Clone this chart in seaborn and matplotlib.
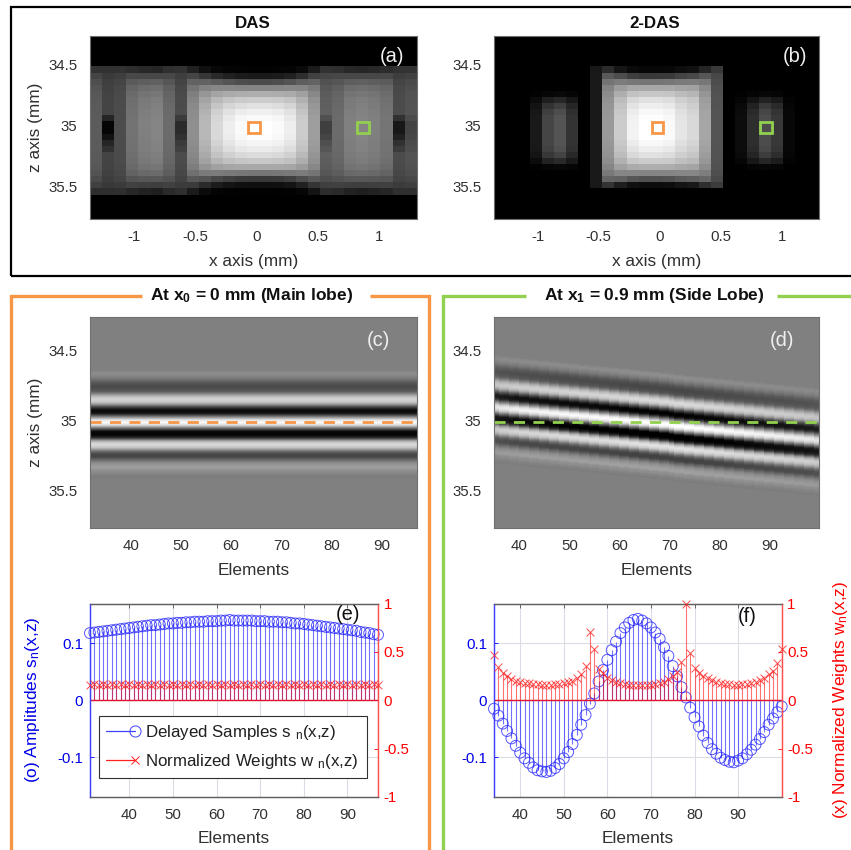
import numpy as np
import seaborn as sns
import matplotlib
matplotlib.use('Agg')
import matplotlib.pyplot as plt
from matplotlib.lines import Line2D
from matplotlib.patches import Rectangle
from matplotlib.legend_handler import HandlerLine2DCompound

W, H = 851, 850
ORANGE = '#F79646'
GREEN = '#92D050'
TXT = '#303030'

# panel (a): brightness per column, envelope per row, dips around z=35
das_cols = [.36, .27, .30, .45, .50, .52, .42, .30, .56, .72, .85, .93, .98, 1.0, 1.0, .98, .93, .80,
            .62, .38, .42, .50, .52, .50, .46, .30, .33]
das_env = [0, 0, 0, 0, 0, .01, .10, .30, .52, .68, .80, .88, .94, .98, 1.0, 1.0, .99, .96, .92, .86,
           .78, .66, .46, .22, .06, .005, 0, 0, 0, 0]
das_dip_col = [1, .08, 1, 1, 1, 1, 1, .55, 1, 1, 1, 1, 1, 1, 1, 1, 1, 1, 1, .65, 1, 1, 1, 1, 1, .3, .8]
das_dip_row = [0, 0, 0, 0, 0, 0, 0, 0, 0, 0, 0, 0, 0, .5, 1.0, 1.0, .8, .5, .3, 0,
               0, 0, 0, 0, 0, 0, 0, 0, 0, 0]

# panel (b)
das2_cols = [0, 0, 0, .10, .27, .33, .20, 0, .10, .60, .80, .95, 1.0, 1.0, .98, .90, .85, .65,
             .33, 0, .05, .18, .30, .22, .03, 0, 0]
das2_is_side = [1, 1, 1, 1, 1, 1, 1, 1, 0, 0, 0, 0, 0, 0, 0, 0, 0, 0, 0, 1, 1, 1, 1, 1, 1, 1, 1]
das2_main_env = [0, 0, 0, 0, 0, .03, .22, .46, .66, .78, .88, .93, .97, .99, 1.0, 1.0, 1.0, .97, .93, .88,
                 .80, .68, .52, .32, .05, 0, 0, 0, 0, 0]
das2_side_env = [0, 0, 0, 0, 0, 0, 0, 0, 0, .10, .45, .75, .92, 1.0, 1.0, 1.0, 1.0, 1.0, .95, .80,
                 .50, .10, 0, 0, 0, 0, 0, 0, 0, 0]

# panels (c) (d): echo brightness through depth, one value per image row
echo = [.50, .50, .50, .51, .53, .54, .55, .54, .53, .51, .49, .47, .44, .41, .38, .35, .33, .32, .30, .30,
        .30, .31, .32, .34, .37, .43, .50, .58, .66, .72, .77, .80, .82, .81, .78, .74, .66, .56, .45, .33,
        .24, .15, .08, .05, .05, .07, .12, .22, .35, .47, .60, .72, .84, .91, .95, .97, .93, .88, .80, .68,
        .53, .40, .27, .14, .05, .03, .02, .02, .05, .10, .17, .30, .45, .60, .70, .78, .83, .85, .83, .80,
        .76, .68, .60, .50, .42, .36, .31, .28, .28, .28, .30, .35, .40, .44, .49, .53, .56, .58, .60, .61,
        .62, .61, .58, .56, .55, .54, .52, .51, .50, .49, .49, .50, .50, .50]
d_shift = [-15, -14, -14, -13, -13, -12, -12, -11, -11, -10, -10, -9, -9, -8, -8, -7, -7, -6, -6, -5, -5, -4,
           -4, -3, -3, -2, -2, -1, -1, 0, 0, 1, 1, 2, 2, 3, 4, 4, 5, 5, 6, 6, 7, 7, 8, 8, 9, 9, 10, 10, 11,
           11, 12, 12, 13, 13, 14, 14, 15, 15, 16, 16, 17, 17, 18]
d_amp = [.85, .88, .90, .92, .95, .96, .97, .98, .98, .99, 1.0, 1.0, 1.0, 1.02, 1.02, 1.02, 1.02, 1.03, 1.03, 1.03,
         1.04, 1.04, 1.05, 1.05, 1.06, 1.08, 1.08, 1.08, 1.1, 1.1, 1.1, 1.1, 1.1, 1.1, 1.1, 1.1, 1.1, 1.1, 1.1, 1.08,
         1.08, 1.06, 1.06, 1.05, 1.05, 1.04, 1.03, 1.02, 1.0, 1.0, 1.0, .98, .98, .96, .96, .95, .95, .94, .94, .92,
         .92, .90, .90, .88, .85]

# panel (e)
e_elements = list(range(31, 98))
e_amps = [.118, .119, .120, .121, .122, .123, .124, .125, .126, .127, .128, .129, .130, .131, .132, .132, .133,
          .134, .135, .135, .136, .136, .137, .137, .138, .138, .138, .139, .139, .139, .140, .140, .141, .140,
          .140, .140, .140, .140, .139, .139, .139, .138, .138, .138, .137, .137, .136, .135, .135, .134, .133,
          .132, .131, .130, .129, .128, .127, .126, .125, .124, .123, .122, .120, .119, .118, .116, .115]
e_weights = [.16, .17, .16, .17, .16, .17, .16, .17, .16, .17, .16, .17, .16, .17, .16, .17, .16, .17, .16, .17,
             .16, .17, .16, .17, .16, .17, .16, .17, .16, .17, .16, .17, .16, .17, .16, .17, .16, .17, .16, .17,
             .16, .17, .16, .17, .16, .17, .16, .17, .16, .17, .16, .17, .16, .17, .16, .17, .16, .17, .16, .17,
             .16, .17, .16, .17, .16, .17, .16]

# panel (f)
f_elements = list(range(34, 101))
f_amps = [-.015, -.027, -.041, -.054, -.067, -.080, -.092, -.102, -.110, -.118, -.123, -.125, -.126, -.124, -.119,
          -.112, -.102, -.091, -.077, -.061, -.043, -.026, -.006, .012, .033, .053, .071, .088, .103, .118, .128,
          .136, .141, .143, .140, .135, .128, .119, .108, .093, .078, .060, .042, .023, .005, -.013, -.030, -.046,
          -.062, -.075, -.086, -.094, -.101, -.105, -.108, -.109, -.106, -.102, -.095, -.087, -.078, -.068, -.056,
          -.043, -.032, -.021, -.011]
f_weights = [.47, .34, .285, .25, .22, .20, .19, .18, .175, .17, .165, .16, .16, .16, .165, .17, .175, .185, .20,
             .23, .27, .355, .71, .525, .32, .28, .235, .21, .19, .175, .165, .16, .155, .155, .155, .16, .16, .17,
             .18, .19, .215, .25, .295, .395, 1.0, .49, .33, .285, .25, .225, .205, .19, .18, .17, .165, .16, .16,
             .165, .17, .18, .19, .21, .235, .27, .30, .38, .525]

z_ticks = [34.5, 35, 35.5]
z_labels = ['34.5', '35', '35.5']
x_ticks = [-1, -.5, 0, .5, 1]
x_labels = ['-1', '-0.5', '0', '0.5', '1']
el_ticks = [40, 50, 60, 70, 80, 90]
el_labels = ['40', '50', '60', '70', '80', '90']

sns.set_theme(style='white')
plt.rcParams['font.family'] = ['Liberation Sans', 'DejaVu Sans']
plt.rcParams['mathtext.fontset'] = 'custom'
plt.rcParams['mathtext.rm'] = 'Liberation Sans'
plt.rcParams['mathtext.bf'] = 'Liberation Sans:bold'
plt.rcParams['mathtext.default'] = 'rm'
TICK = 10.8
LAB = 12.4

fig = plt.figure(figsize=(W / 100, H / 100), dpi=100, facecolor='white')


def add_ax(left, top, right, bottom):
    return fig.add_axes([left / W, 1 - bottom / H, (right - left) / W, (bottom - top) / H])


def fig_line(xs, ys, color, lw):
    fig.add_artist(Line2D([x / W for x in xs], [1 - y / H for y in ys], color=color, lw=lw,
                          solid_capstyle='butt', solid_joinstyle='miter'))


def fig_text(x, y, s, **kw):
    fig.text(x / W, 1 - y / H, s, ha='center', va='center', color=kw.pop('color', '#101010'), **kw)


def gray_panel(box, data, xlim, zlim, xticks, xlabels, xlabel, ylabel, tag, tag_xy):
    ax = add_ax(*box)
    data = np.asarray(data)
    sns.heatmap(data, cmap='gray', vmin=0, vmax=1, cbar=False, ax=ax)
    nr, nc = data.shape
    to_x = lambda v: (np.asarray(v, dtype=float) - xlim[0]) / (xlim[1] - xlim[0]) * nc
    to_z = lambda v: (np.asarray(v, dtype=float) - zlim[0]) / (zlim[1] - zlim[0]) * nr
    ax.set_xticks(to_x(xticks))
    ax.set_xticklabels(xlabels, rotation=0, fontsize=TICK, color=TXT)
    ax.set_yticks(to_z(z_ticks))
    ax.set_yticklabels(z_labels, rotation=0, fontsize=TICK, color=TXT)
    ax.tick_params(axis='x', direction='in', length=3, width=.6, color='#505050', top=True, pad=8)
    ax.tick_params(axis='y', direction='in', length=3, width=.6, color='#505050', right=True, pad=9)
    for s in ax.spines.values():
        s.set_visible(True)
        s.set_color('#707070')
        s.set_linewidth(.8)
    ax.set_xlabel(xlabel, fontsize=LAB, color=TXT, labelpad=7)
    ax.set_ylabel(ylabel, fontsize=LAB, color=TXT, labelpad=4)
    fig_text(tag_xy[0], tag_xy[1], tag, color='#f0f0f0', fontsize=14.5)
    return ax, to_x, to_z


# top frame
fig.add_artist(Rectangle((10.5 / W, 1 - 276 / H), 845 / W, 269 / H, fill=False, ec='black', lw=1.6,
                         transform=fig.transFigure))

# (a) DAS, bright columns follow the row envelope, dim ones stay nearly flat
col_a = np.array(das_cols)
das_mat = col_a * np.array(das_env)[:, None] ** (col_a ** 2)
das_mat = das_mat * (1 - np.outer(das_dip_row, 1 - np.array(das_dip_col)))
ax, to_x, to_z = gray_panel((90, 36, 416.7, 219), das_mat, (-1.36, 1.305), (34.25, 35.75), x_ticks, x_labels,
                            'x axis (mm)', 'z axis (mm)', '(a)', (392, 56))
for xc, col in [(-.02, ORANGE), (.865, GREEN)]:
    ax.add_patch(Rectangle((to_x(xc - .048), to_z(34.952)), to_x(xc + .048) - to_x(xc - .048),
                           to_z(35.048) - to_z(34.952), fill=False, ec=col, lw=2))
fig_text(253, 24, 'DAS', fontsize=12.2, fontweight='bold')

# (b) 2-DAS
col_b = np.array(das2_cols)
das2_main = col_b * np.array(das2_main_env)[:, None] ** (col_b ** 2)
das2_side = np.outer(das2_side_env, col_b)
das2_mat = np.where(np.array(das2_is_side) == 1, das2_side, das2_main)
ax, to_x, to_z = gray_panel((494, 36, 819.3, 219), das2_mat, (-1.357, 1.303), (34.25, 35.75), x_ticks, x_labels,
                            'x axis (mm)', '', '(b)', (795, 56))
for xc, col in [(-.02, ORANGE), (.865, GREEN)]:
    ax.add_patch(Rectangle((to_x(xc - .048), to_z(34.952)), to_x(xc + .048) - to_x(xc - .048),
                           to_z(35.048) - to_z(34.952), fill=False, ec=col, lw=2))
fig_text(655, 24, '2-DAS', fontsize=12.2, fontweight='bold')

# orange and green brackets
fig_line([11, 11, 142], [850, 296, 296], ORANGE, 2.4)
fig_line([370, 428.5, 428.5], [296, 296, 850], ORANGE, 2.4)
fig_line([443, 443, 526], [850, 296, 296], GREEN, 2.4)
fig_line([777, 851], [296, 296], GREEN, 2.4)
fig_text(252, 296, r'At x$\mathbf{_0}$ = 0 mm (Main lobe)', fontsize=12.5, fontweight='bold')
fig_text(654, 296, r'At x$\mathbf{_1}$ = 0.9 mm (Side Lobe)', fontsize=12.5, fontweight='bold')

# (c) flat echo, (d) tilted echo
n_rows = 211
top_pad = 50
echo_col = np.full(n_rows, .5)
echo_col[top_pad:top_pad + len(echo)] = echo
c_mat = np.tile(echo_col[:, None], (1, 65))
ax, to_x, to_z = gray_panel((90, 317, 416.7, 527.7), c_mat, (31.9, 97), (34.253, 35.752), el_ticks, el_labels,
                            'Elements', 'z axis (mm)', '(c)', (378, 340))
ax.plot([0, 65], [to_z(35), to_z(35)], color=ORANGE, lw=2, dashes=(4, 3))

d_mat = np.column_stack([.5 + a * (np.roll(echo_col, s) - .5) for s, a in zip(d_shift, d_amp)])
d_mat = np.clip(d_mat, 0, 1)
ax, to_x, to_z = gray_panel((494, 317, 819.3, 527.7), d_mat, (34.94, 100), (34.253, 35.752), el_ticks, el_labels,
                            'Elements', '', '(d)', (782, 340))
ax.plot([0, 65], [to_z(35), to_z(35)], color=GREEN, lw=2, dashes=(4, 3))


class EndMarker(HandlerLine2DCompound):
    def create_artists(self, legend, orig, xd, yd, w, h, fs, trans):
        line, mk = super().create_artists(legend, orig, xd, yd, w, h, fs, trans)
        mk.set_xdata([w - xd])
        return [line, mk]


def stem_panel(box, xs, amps, weights, xlim):
    ax = add_ax(*box)
    ax2 = ax.twinx()
    ax.vlines(xs, 0, amps, color='#0000ff', lw=.8, alpha=.55)
    sns.scatterplot(x=xs, y=amps, ax=ax, marker='o', s=62, facecolors='none', edgecolor='#2020ff',
                    linewidth=.7, alpha=.75, clip_on=False, zorder=3)
    ax2.vlines(xs, 0, weights, color='#ff0000', lw=.8, alpha=.55)
    ax2.plot(xlim, [0, 0], color='#e01030', lw=1)
    sns.scatterplot(x=xs, y=weights, ax=ax2, marker='x', s=32, color='#ff2020', linewidth=.7,
                    alpha=.8, clip_on=False, zorder=3)
    ax.set_xlim(*xlim)
    ax.set_ylim(-.17, .17)
    ax2.set_ylim(-1, 1)
    ax.set_xticks(el_ticks)
    ax.set_xticklabels(el_labels, fontsize=TICK, color=TXT)
    ax.set_yticks([-.1, 0, .1])
    ax.set_yticklabels(['-0.1', '0', '0.1'], fontsize=TICK, color='#0000e8')
    ax2.set_yticks([-1, -.5, 0, .5, 1])
    ax2.set_yticklabels(['-1', '-0.5', '0', '0.5', '1'], fontsize=TICK, color='#ff0000')
    ax.grid(True, color='#dcdce6', lw=.8)
    ax.set_axisbelow(True)
    ax.tick_params(axis='x', direction='in', length=3, width=.6, color='#505050', top=True, pad=8)
    ax.tick_params(axis='y', direction='in', length=3, width=.6, color='#0000ff', pad=5)
    ax2.tick_params(axis='y', direction='in', length=3, width=.6, color='#ff0000', pad=4)
    for a in (ax, ax2):
        a.spines['top'].set_color('#606060')
        a.spines['bottom'].set_color('#606060')
        a.spines['left'].set_color('#4040ff')
        a.spines['right'].set_color('#ff5050')
        for s in a.spines.values():
            s.set_linewidth(.9)
    ax.set_xlabel('Elements', fontsize=LAB, color=TXT, labelpad=6.5)
    return ax, ax2


# (e)
ax, ax2 = stem_panel((90, 603.5, 378, 797), e_elements, e_amps, e_weights, (31, 97))
ax.set_ylabel(r'(o) Amplitudes s$_{n}$(x,z)', fontsize=LAB, color='#0000e8', labelpad=11)
h1 = Line2D([], [], color='#4040ff', lw=.9, marker='o', ms=8, mfc='none', mew=.7)
h2 = Line2D([], [], color='#ff2020', lw=.9, marker='x', ms=6, mew=.7)
leg = ax2.legend([h1, h2], [r'Delayed Samples s $_{n}$(x,z)', r'Normalized Weights w $_{n}$(x,z)'],
                 handler_map={h1: EndMarker(numpoints=1), h2: EndMarker(numpoints=1)},
                 loc='lower left', bbox_to_anchor=(9 / 288, 19 / 193.5, 268 / 288, 67 / 193.5),
                 mode='expand', borderaxespad=0, fontsize=12.2, labelspacing=.6, handlelength=1.75,
                 handletextpad=.55, fancybox=False, framealpha=1, edgecolor='#303030')
leg.get_frame().set_linewidth(.8)
for t in leg.get_texts():
    t.set_color('#202020')
fig_text(348, 615, '(e)', fontsize=14.5)

# (f)
ax, ax2 = stem_panel((494, 603.5, 781.7, 797), f_elements, f_amps, f_weights, (34, 100))
ax2.set_ylabel(r'(x) Normalized Weights w$_{n}$(x,z)', fontsize=LAB, color='#ff0000', labelpad=13)
fig_text(747, 617, '(f)', fontsize=14.5)

fig.savefig('out.png', dpi=100)
